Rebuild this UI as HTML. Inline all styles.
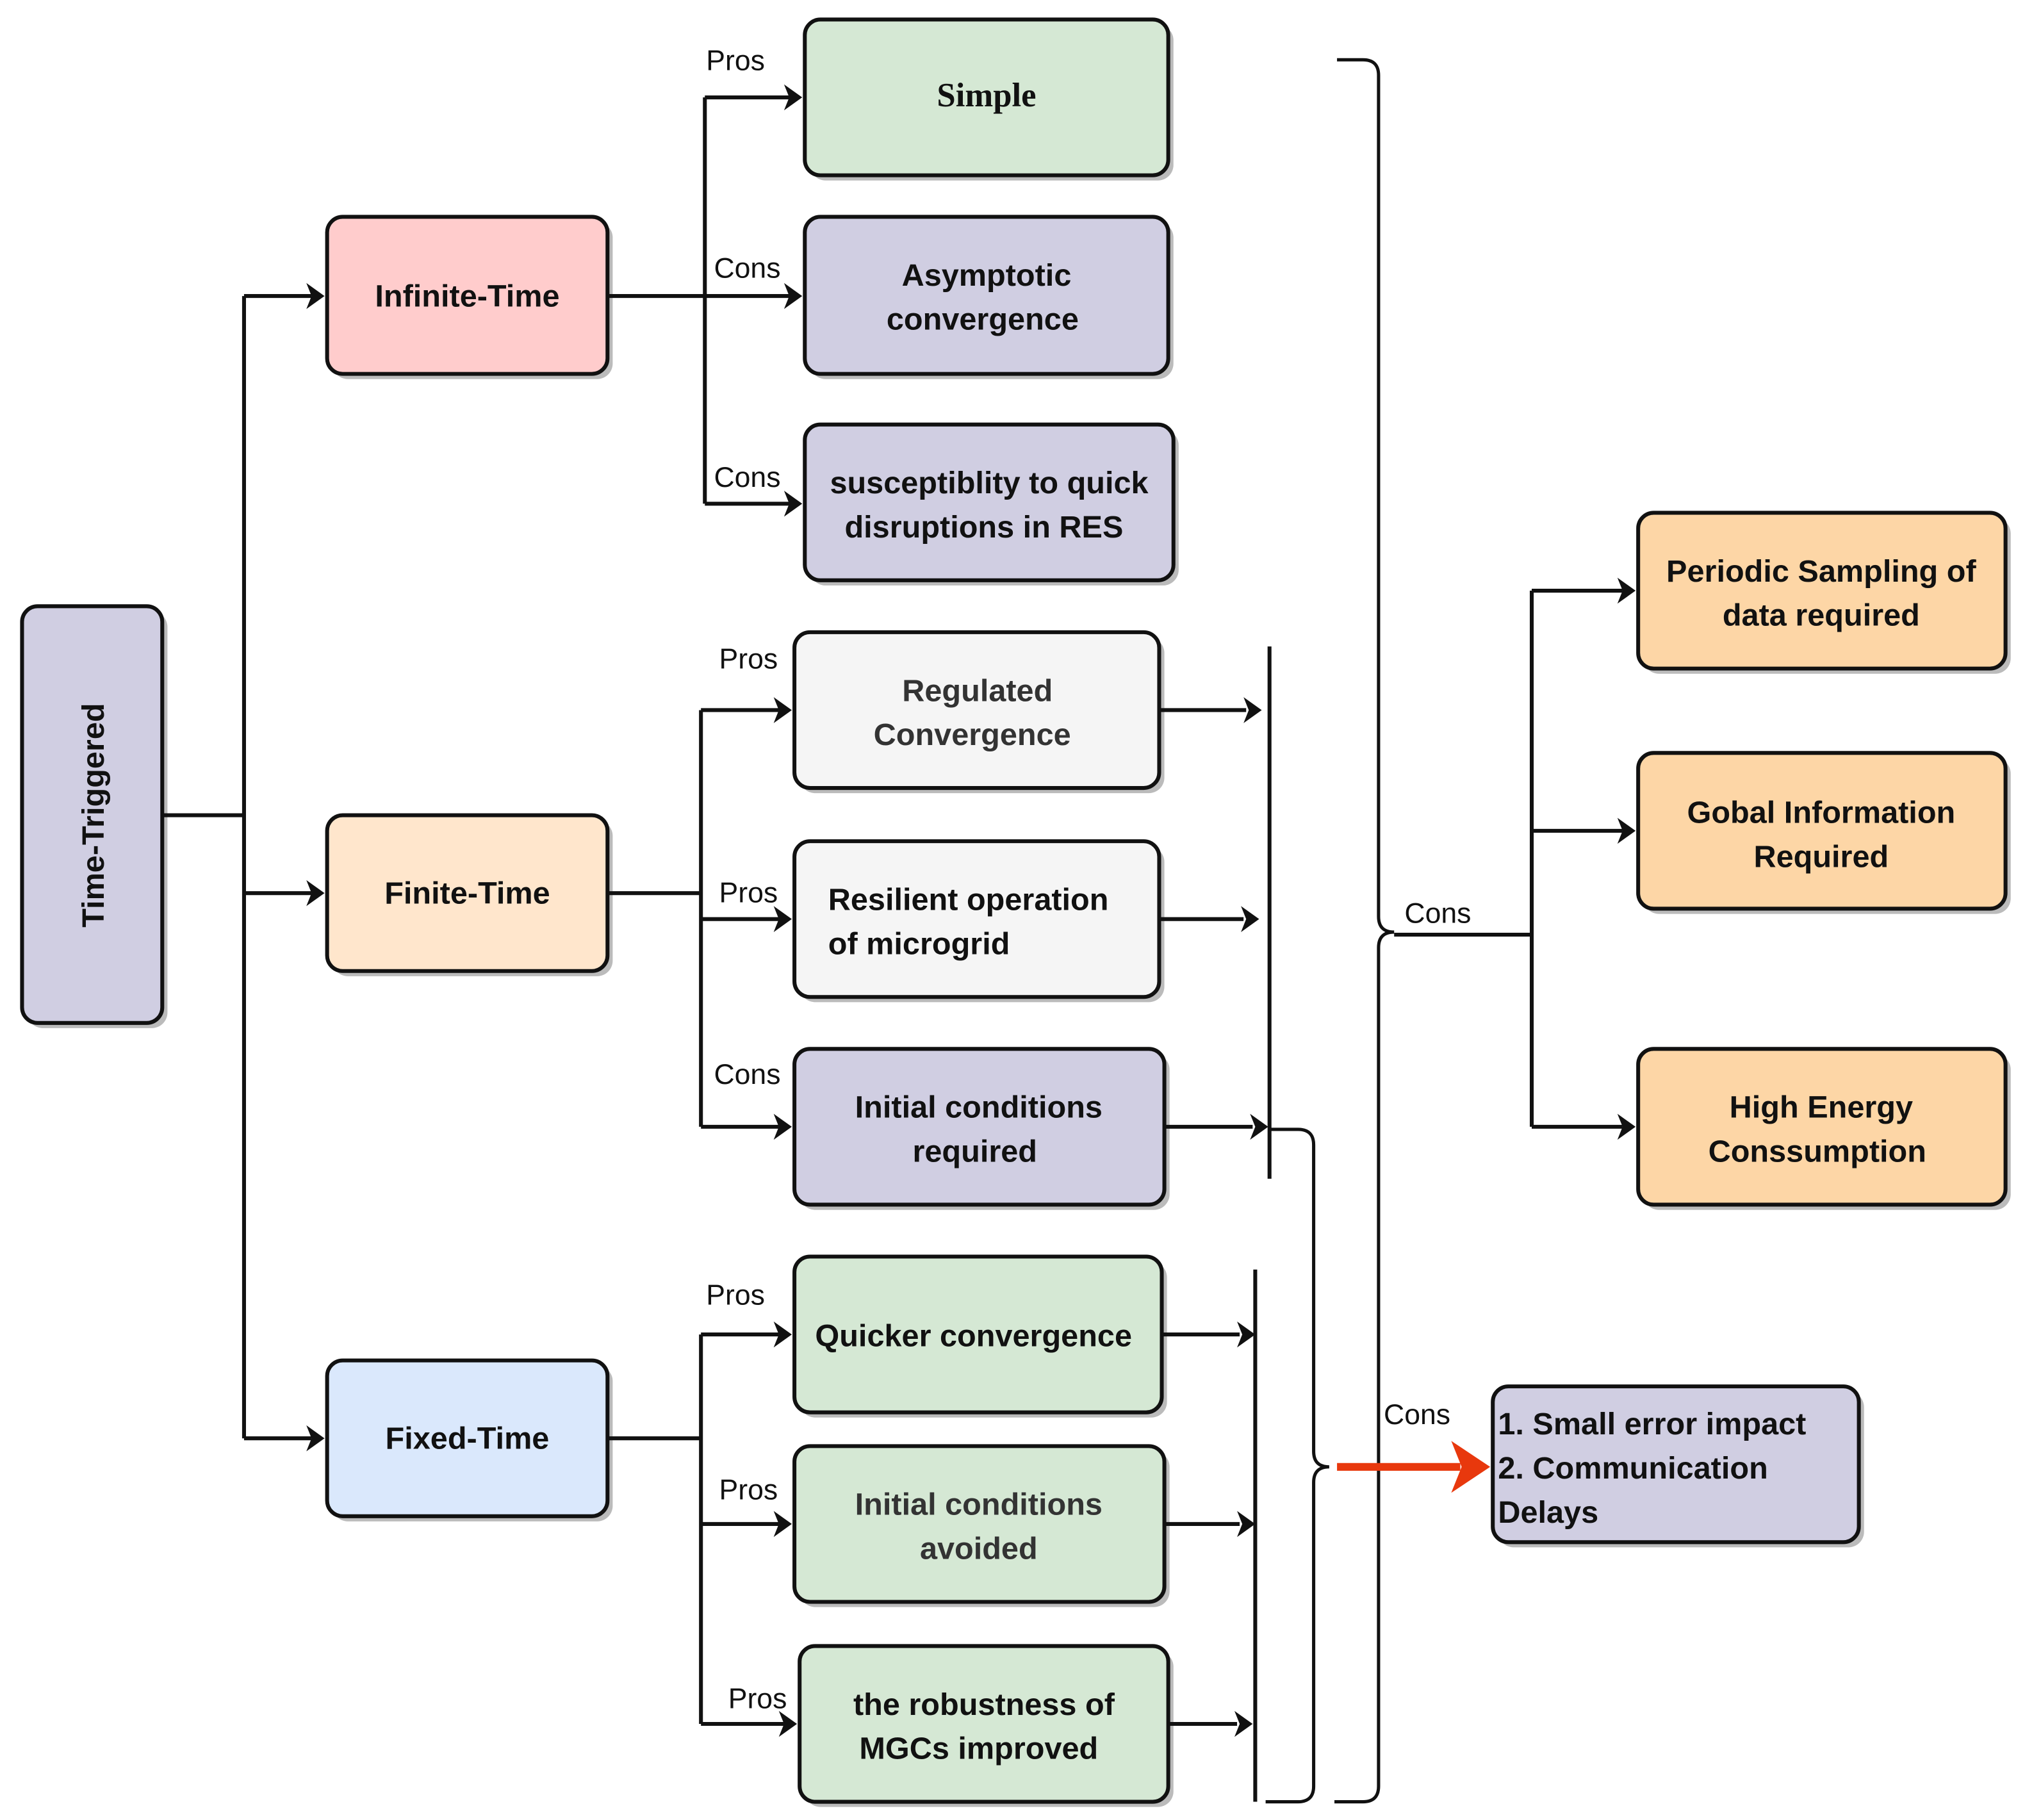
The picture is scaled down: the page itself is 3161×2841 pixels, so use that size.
<!DOCTYPE html>
<html><head><meta charset="utf-8"><style>
html,body{margin:0;padding:0;background:#fff;}
svg{display:block;}
text{font-family:"Liberation Sans",sans-serif;}
.b{font-weight:bold;font-size:24px;fill:#111;}
.l{font-size:22px;fill:#111;}
</style></head><body>
<svg width="3161" height="2841" viewBox="0 0 1560 1402" xmlns="http://www.w3.org/2000/svg">
<defs>
<marker id="ar" markerWidth="10" markerHeight="10" refX="9" refY="5" orient="auto" markerUnits="userSpaceOnUse" viewBox="0 0 10 10">
</marker>
</defs>
<g id="shadows" fill="#bbb">
<rect x="21" y="471" width="108" height="321" rx="12"/>
<rect x="256" y="171" width="216" height="121" rx="12"/>
<rect x="256" y="632" width="216" height="120" rx="12"/>
<rect x="256" y="1052" width="216" height="120" rx="12"/>
<rect x="624" y="19" width="280" height="120" rx="12"/>
<rect x="624" y="171" width="280" height="121" rx="12"/>
<rect x="624" y="331" width="284" height="120" rx="12"/>
<rect x="616" y="491" width="281" height="120" rx="12"/>
<rect x="616" y="652" width="281" height="120" rx="12"/>
<rect x="616" y="812" width="285" height="120" rx="12"/>
<rect x="616" y="972" width="283" height="120" rx="12"/>
<rect x="616" y="1118" width="285" height="120" rx="12"/>
<rect x="620" y="1272" width="284" height="120" rx="12"/>
<rect x="1266" y="399" width="283" height="120" rx="12"/>
<rect x="1266" y="584" width="283" height="120" rx="12"/>
<rect x="1266" y="812" width="283" height="120" rx="12"/>
<rect x="1154" y="1072" width="282" height="120" rx="12"/>
</g>
<g stroke="#111" stroke-width="3">
<rect x="17" y="467" width="108" height="321" rx="12" fill="#d0cee2"/>
<rect x="252" y="167" width="216" height="121" rx="12" fill="#ffcccc"/>
<rect x="252" y="628" width="216" height="120" rx="12" fill="#ffe6cc"/>
<rect x="252" y="1048" width="216" height="120" rx="12" fill="#dae8fc"/>
<rect x="620" y="15" width="280" height="120" rx="12" fill="#d5e8d4"/>
<rect x="620" y="167" width="280" height="121" rx="12" fill="#d0cee2"/>
<rect x="620" y="327" width="284" height="120" rx="12" fill="#d0cee2"/>
<rect x="612" y="487" width="281" height="120" rx="12" fill="#f5f5f5"/>
<rect x="612" y="648" width="281" height="120" rx="12" fill="#f5f5f5"/>
<rect x="612" y="808" width="285" height="120" rx="12" fill="#d0cee2"/>
<rect x="612" y="968" width="283" height="120" rx="12" fill="#d5e8d4"/>
<rect x="612" y="1114" width="285" height="120" rx="12" fill="#d5e8d4"/>
<rect x="616" y="1268" width="284" height="120" rx="12" fill="#d5e8d4"/>
<rect x="1262" y="395" width="283" height="120" rx="12" fill="#fdd6a6"/>
<rect x="1262" y="580" width="283" height="120" rx="12" fill="#fdd6a6"/>
<rect x="1262" y="808" width="283" height="120" rx="12" fill="#fdd6a6"/>
<rect x="1150" y="1068" width="282" height="120" rx="12" fill="#d0cee2"/>
</g>
<g stroke="#111" stroke-width="3" fill="none">
<path d="M125 628 H188 M188 228 V1108 M188 228 H240 M188 688 H240 M188 1108 H240"/>
<path d="M468 228 H543 M543 75 V388 M543 75 H608 M543 228 H608 M543 388 H608"/>
<path d="M468 688 H540 M540 547 V868 M540 547 H600 M540 708 H600 M540 868 H600"/>
<path d="M468 1108 H540 M540 1028 V1328 M540 1028 H600 M540 1174 H600 M540 1328 H604"/>
<path d="M893 547 H960 M893 708 H958 M897 868 H965 M978 498 V908"/>
<path d="M895 1028 H955 M897 1174 H955 M900 1328 H953 M967 978 V1388"/>
<path d="M1180 455 V868 M1180 455 H1250 M1180 640 H1250 M1180 868 H1250 M1074 720 H1180"/>
<path d="M978 870 H1000 Q1012 870 1012 882 V1118 Q1012 1130 1024 1130 Q1012 1130 1012 1142 V1376 Q1012 1388 1000 1388 H975" stroke-width="2.5"/>
<path d="M1030 46 H1050 Q1062 46 1062 58 V706 Q1062 718 1074 718 Q1062 718 1062 730 V1376 Q1062 1388 1050 1388 H1028" stroke-width="2.5"/>
</g>
<g fill="#111">
<path d="M250 228 l-14 -10 l4 10 l-4 10 z"/>
<path d="M250 688 l-14 -10 l4 10 l-4 10 z"/>
<path d="M250 1108 l-14 -10 l4 10 l-4 10 z"/>
<path d="M618 75 l-14 -10 l4 10 l-4 10 z"/>
<path d="M618 228 l-14 -10 l4 10 l-4 10 z"/>
<path d="M618 388 l-14 -10 l4 10 l-4 10 z"/>
<path d="M610 547 l-14 -10 l4 10 l-4 10 z"/>
<path d="M610 708 l-14 -10 l4 10 l-4 10 z"/>
<path d="M610 868 l-14 -10 l4 10 l-4 10 z"/>
<path d="M610 1028 l-14 -10 l4 10 l-4 10 z"/>
<path d="M610 1174 l-14 -10 l4 10 l-4 10 z"/>
<path d="M614 1328 l-14 -10 l4 10 l-4 10 z"/>
<path d="M972 547 l-14 -10 l4 10 l-4 10 z"/>
<path d="M970 708 l-14 -10 l4 10 l-4 10 z"/>
<path d="M977 868 l-14 -10 l4 10 l-4 10 z"/>
<path d="M967 1028 l-14 -10 l4 10 l-4 10 z"/>
<path d="M967 1174 l-14 -10 l4 10 l-4 10 z"/>
<path d="M965 1328 l-14 -10 l4 10 l-4 10 z"/>
<path d="M1260 455 l-14 -10 l4 10 l-4 10 z"/>
<path d="M1260 640 l-14 -10 l4 10 l-4 10 z"/>
<path d="M1260 868 l-14 -10 l4 10 l-4 10 z"/>
</g>
<path d="M1030 1130 H1125" stroke="#e8380d" stroke-width="6"/>
<path d="M1148 1130 l-30 -20 l8 20 l-8 20 z" fill="#e8380d"/>
<g class="b" text-anchor="middle">
<text transform="translate(80,628) rotate(-90)">Time-Triggered</text>
<text x="360" y="236">Infinite-Time</text>
<text x="360" y="696">Finite-Time</text>
<text x="360" y="1116">Fixed-Time</text>
<text x="760" y="82" style="font-family:'Liberation Serif',serif;font-size:26px;">Simple</text>
<text x="760" y="220">Asymptotic</text>
<text x="757" y="254">convergence</text>
<text x="762" y="380">susceptiblity  to quick</text>
<text x="758" y="414">disruptions in RES</text>
<text x="753" y="540" fill="#333" style="fill:#333">Regulated</text>
<text x="749" y="574" style="fill:#333">Convergence</text>
<text x="754" y="861">Initial conditions</text>
<text x="751" y="895">required</text>
<text x="750" y="1037">Quicker convergence</text>
<text x="754" y="1167" style="fill:#333">Initial conditions</text>
<text x="754" y="1201" style="fill:#333">avoided</text>
<text x="758" y="1321">the robustness  of</text>
<text x="754" y="1355">MGCs improved</text>
<text x="1403" y="448">Periodic Sampling of</text>
<text x="1403" y="482">data required</text>
<text x="1403" y="634">Gobal Information</text>
<text x="1403" y="668">Required</text>
<text x="1403" y="861">High  Energy</text>
<text x="1400" y="895">Conssumption</text>
</g>
<g class="b">
<text x="638" y="701">Resilient operation</text>
<text x="638" y="735">of microgrid</text>
<text x="1154" y="1105">1. Small error impact</text>
<text x="1154" y="1139">2. Communication</text>
<text x="1154" y="1173">Delays</text>
</g>
<g class="l">
<text x="544" y="54">Pros</text>
<text x="550" y="214">Cons</text>
<text x="550" y="375">Cons</text>
<text x="554" y="515">Pros</text>
<text x="554" y="695">Pros</text>
<text x="550" y="835">Cons</text>
<text x="544" y="1005">Pros</text>
<text x="554" y="1155">Pros</text>
<text x="561" y="1316">Pros</text>
<text x="1082" y="711">Cons</text>
<text x="1066" y="1097">Cons</text>
</g>
</svg>
</body></html>
